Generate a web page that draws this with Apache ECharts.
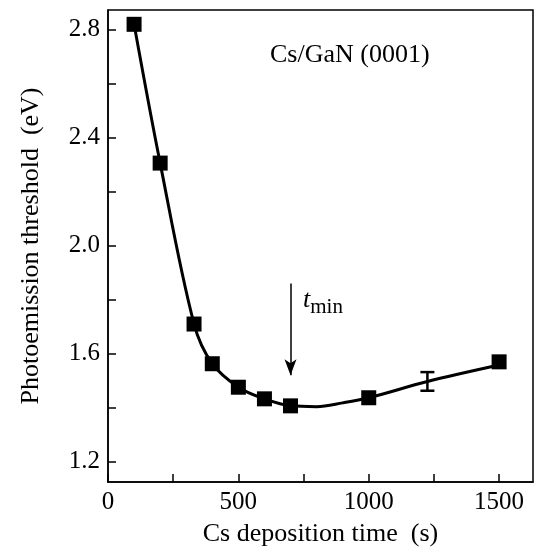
<!DOCTYPE html>
<html>
<head>
<meta charset="utf-8">
<script src="https://cdn.jsdelivr.net/npm/echarts@6/dist/echarts.min.js"></script>
<style>html,body{margin:0;padding:0;background:#fff}#c{width:536px;height:552px}</style>
</head>
<body>
<div id="c"></div>
<script>
// Measured points
const depTime = [100, 200, 330, 400, 500, 600, 700, 1000, 1500];
const threshold = [2.82, 2.306, 1.71, 1.563, 1.476, 1.433, 1.407, 1.437, 1.570];
// Guide curve
const curveTime = [100, 200, 330, 400, 500, 600, 700, 800, 900, 1000, 1225, 1500];
const curveVal = [2.82, 2.306, 1.71, 1.563, 1.476, 1.433, 1.407, 1.404, 1.418, 1.437, 1.497, 1.558];
// Error bar
const errX = [1225];
const errLow = [1.463];
const errHigh = [1.532];
// Arrow marking t_min
const arrowX = 700;
const arrowFrom = 1.86;
const arrowTo = 1.52;
// Ticks
const xTicks = [0, 250, 500, 750, 1000, 1250, 1500];
const xLabels = [0, 500, 1000, 1500];
const yTicks = [1.2, 1.4, 1.6, 1.8, 2.0, 2.2, 2.4, 2.6, 2.8];
const yLabels = [1.2, 1.6, 2.0, 2.4, 2.8];

const font = 'Liberation Serif';
const chart = echarts.init(document.getElementById('c'), null, {renderer: 'canvas'});
chart.setOption({
  animation: false,
  backgroundColor: '#fff',
  textStyle: {fontFamily: font},
  grid: {left: 108, top: 10, right: 3, bottom: 70, show: true, borderColor: '#000', borderWidth: 1.5, backgroundColor: 'transparent'},
  xAxis: {
    type: 'value', min: 0, max: 1630,
    name: 'Cs deposition time  (s)', nameLocation: 'middle', nameGap: 39,
    nameTextStyle: {fontFamily: font, fontSize: 26, color: '#000'},
    axisLine: {show: true, lineStyle: {color: '#000', width: 1.5}},
    axisTick: {show: true, inside: true, length: 8, customValues: xTicks, lineStyle: {color: '#000', width: 1.5}},
    axisLabel: {customValues: xLabels, fontFamily: font, fontSize: 25, color: '#000', margin: 8,
      formatter: v => String(Math.round(v))},
    splitLine: {show: false}
  },
  yAxis: {
    type: 'value', min: 1.125, max: 2.873,
    name: 'Photoemission threshold  (eV)', nameLocation: 'middle', nameGap: 64, nameRotate: 90,
    nameTextStyle: {fontFamily: font, fontSize: 26, color: '#000'},
    axisLine: {show: true, lineStyle: {color: '#000', width: 1.5}},
    axisTick: {show: true, inside: true, length: 8, customValues: yTicks, lineStyle: {color: '#000', width: 1.5}},
    axisLabel: {customValues: yLabels, fontFamily: font, fontSize: 25, color: '#000', margin: 8,
      formatter: v => Number(v).toFixed(1)},
    splitLine: {show: false}
  },
  graphic: [
    {type: 'text', left: 270, top: 42, style: {text: 'Cs/GaN (0001)', fontFamily: font, fontSize: 26, fill: '#000'}},
    {type: 'text', left: 303, top: 287, style: {
      text: '{t|t}{s|min}', rich: {
        t: {fontFamily: font, fontStyle: 'italic', fontSize: 26, color: '#000'},
        s: {fontFamily: font, fontSize: 21, color: '#000', padding: [14, 0, 0, 0]}
      }}}
  ],
  series: [
    {
      type: 'line', data: curveTime.map((x, i) => [x, curveVal[i]]),
      smooth: 0.35, showSymbol: false, symbol: 'none',
      lineStyle: {color: '#000', width: 3}, z: 2,
      markLine: {
        silent: true, symbol: ['none', 'arrow'], symbolSize: [9, 16],
        label: {show: false},
        lineStyle: {color: '#000', width: 1.5, type: 'solid'},
        data: [[{coord: [arrowX, arrowFrom]}, {coord: [arrowX, arrowTo]}]]
      }
    },
    {
      type: 'scatter', data: depTime.map((x, i) => [x, threshold[i]]),
      symbol: 'rect', symbolSize: 15, itemStyle: {color: '#000', opacity: 1}, z: 3
    },
    {
      type: 'custom', data: errX.map((x, i) => [x, errLow[i], errHigh[i]]),
      renderItem: function (params, api) {
        const lo = api.coord([api.value(0), api.value(1)]);
        const hi = api.coord([api.value(0), api.value(2)]);
        const w = 7;
        const st = {stroke: '#000', lineWidth: 2.5};
        return {type: 'group', children: [
          {type: 'line', shape: {x1: lo[0], y1: lo[1], x2: hi[0], y2: hi[1]}, style: st},
          {type: 'line', shape: {x1: lo[0] - w, y1: lo[1], x2: lo[0] + w, y2: lo[1]}, style: st},
          {type: 'line', shape: {x1: hi[0] - w, y1: hi[1], x2: hi[0] + w, y2: hi[1]}, style: st}
        ]};
      }, z: 3
    }
  ]
});
</script>
</body>
</html>
